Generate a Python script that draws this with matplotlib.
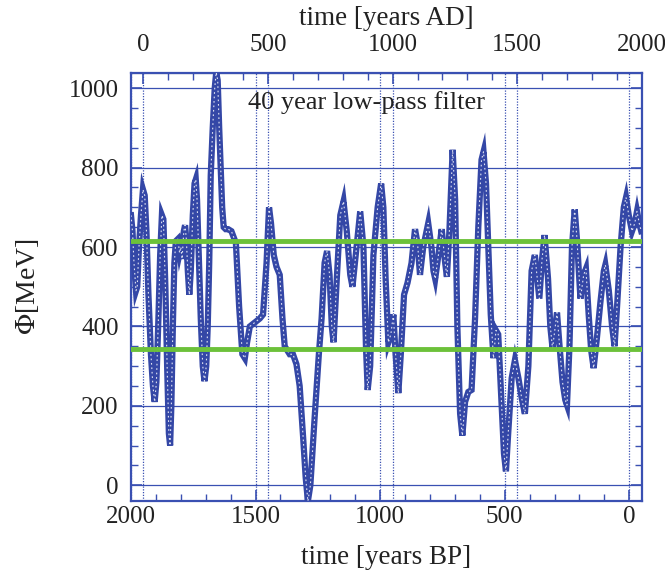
import matplotlib
matplotlib.use('Agg')
import matplotlib.pyplot as plt
import matplotlib.ticker as ticker
import numpy as np

plt.rcParams['font.family'] = ['Liberation Serif', 'DejaVu Serif']
plt.rcParams['mathtext.fontset'] = 'stix'

# time in years before present (BP) and modulation potential in MeV
years_bp = [2000, 1994, 1988, 1980, 1975, 1968, 1960, 1952, 1945, 1938, 1930, 1920,
            1912, 1905, 1898, 1890, 1883, 1876, 1870, 1862, 1855, 1848, 1843, 1838,
            1832, 1826, 1820, 1812, 1805, 1800, 1795, 1788, 1783, 1778, 1772, 1766,
            1760, 1752, 1745, 1740, 1735, 1728, 1720, 1712, 1705, 1698, 1692, 1686,
            1680, 1672, 1664, 1658, 1652, 1646, 1640, 1634, 1628, 1620, 1610, 1597,
            1579, 1566, 1553, 1543, 1534, 1523, 1503, 1483, 1470, 1456, 1446, 1438,
            1427, 1416, 1403, 1392, 1383, 1363, 1350, 1336, 1323, 1309, 1299, 1290,
            1280, 1263, 1246, 1235, 1223, 1213, 1203, 1194, 1187, 1174, 1160, 1147,
            1134, 1120, 1111, 1098, 1080, 1067, 1057, 1050, 1040, 1027, 1010, 996,
            987, 978, 967, 957, 947, 938, 927, 917, 904, 890, 874, 860, 850, 840,
            827, 807, 794, 786, 779, 766, 753, 739, 732, 722, 709, 699, 690, 679,
            670, 659, 646, 633, 619, 606, 593, 585, 575, 566, 556, 545, 535, 526,
            512, 503, 495, 486, 472, 459, 445, 432, 419, 405, 392, 379, 361, 350,
            340, 326, 317, 308, 297, 290, 281, 268, 257, 250, 240, 230, 219, 210,
            196, 183, 174, 163, 153, 143, 130, 116, 102, 96, 82, 69, 59, 49, 35,
            22, 13, 2, -11, -22, -31, -40, -48]
phi = [680, 640, 560, 490, 500, 600, 680, 745, 730, 640, 480, 330,
       250, 210, 260, 420, 580, 680, 670, 500, 300, 130, 100, 200,
       400, 560, 615, 620, 585, 600, 570, 640, 655, 620, 540, 480,
       540, 680, 760, 770, 720, 580, 420, 300, 262, 300, 400, 560,
       780, 900, 1000, 1040, 1020, 900, 800, 700, 650, 645, 645, 640,
       610, 450, 330, 320, 360, 400, 410, 420, 430, 560, 700, 660,
       580, 550, 530, 420, 350, 330, 330, 305, 250, 120, 20, -40,
       0, 170, 330, 420, 560, 590, 530, 400, 360, 520, 680, 715,
       640, 530, 500, 580, 690, 600, 350, 240, 300, 580, 700, 760,
       700, 520, 360, 380, 430, 330, 232, 330, 480, 510, 560, 645, 610, 530,
       600, 660, 600, 540, 520, 580, 645, 560, 525, 640, 845, 720, 400, 180,
       125, 210, 235, 240, 420, 650, 820, 840, 760, 600, 430, 320, 390, 380,
       200, 80, 35, 130, 270, 315, 270, 220, 180, 300, 540, 580, 470, 570,
       630, 520, 400, 345, 400, 435, 360, 260, 215, 202, 350, 600, 695, 620,
       470, 530, 545, 430, 340, 295, 370, 460, 540, 555, 490, 400, 350, 450, 600,
       700, 725, 680, 640, 660, 690, 660, 640]

green_levels = [615, 342]
bp_ticks = [2000, 1500, 1000, 500, 0]
ad_ticks = [0, 500, 1000, 1500, 2000]
phi_ticks = [0, 200, 400, 600, 800, 1000]

blue = '#3447a6'
frame_blue = '#3a50b2'
txt = '#222222'

fig = plt.figure(figsize=(6.65, 5.76), dpi=100)
ax = fig.add_axes([0.197, 0.130, 0.768, 0.743])

for y in phi_ticks:
    ax.axhline(y, color=frame_blue, lw=0.9, zorder=1)
for x in bp_ticks + [1950 - a for a in ad_ticks]:
    ax.axvline(x, color=frame_blue, lw=0.9, ls=(0, (1, 1.2)), zorder=1)

ax.plot(years_bp, phi, color=blue, lw=4.5, solid_joinstyle='miter', zorder=3)
ax.plot(years_bp, phi, color='white', lw=0.8, ls=(0, (1.5, 2.5)), alpha=0.85, zorder=4)

for g in green_levels:
    ax.axhline(g, color='#6cc13a', lw=3.5, zorder=5)

ax.set_xlim(2000, -50)
ax.set_ylim(-40, 1038)
ax.xaxis.set_major_locator(ticker.FixedLocator(bp_ticks))
ax.xaxis.set_minor_locator(ticker.MultipleLocator(100))
ax.yaxis.set_major_locator(ticker.FixedLocator(phi_ticks))
ax.yaxis.set_minor_locator(ticker.MultipleLocator(50))
ax.tick_params(which='both', direction='in', right=True, colors=frame_blue,
               labelcolor=txt, labelsize=18)
ax.tick_params(axis='y', which='major', pad=9)
ax.tick_params(which='major', length=8, width=1.2)
ax.tick_params(which='minor', length=5, width=1.0)
for s in ax.spines.values():
    s.set_color(frame_blue)
    s.set_linewidth(1.6)

top = ax.secondary_xaxis('top', functions=(lambda bp: 1950 - bp, lambda ad: 1950 - ad))
top.xaxis.set_major_locator(ticker.FixedLocator(ad_ticks))
top.xaxis.set_minor_locator(ticker.MultipleLocator(100))
top.tick_params(which='both', direction='in', colors=frame_blue,
                labelcolor=txt, labelsize=18, pad=12)
top.tick_params(which='major', length=8, width=1.2)
top.tick_params(which='minor', length=5, width=1.0)
top.set_xlabel('time [years AD]', fontsize=19.5, color=txt, labelpad=7)

ax.set_xlabel('time [years BP]', fontsize=19.5, color=txt, labelpad=12)
ax.set_ylabel(r'$\Phi$[MeV]', fontsize=20, color=txt, labelpad=20)

ax.text(1054, 965, '40 year low-pass filter', ha='center', va='center',
        fontsize=19, color=txt, zorder=6)

fig.savefig('out.png', dpi=100)
